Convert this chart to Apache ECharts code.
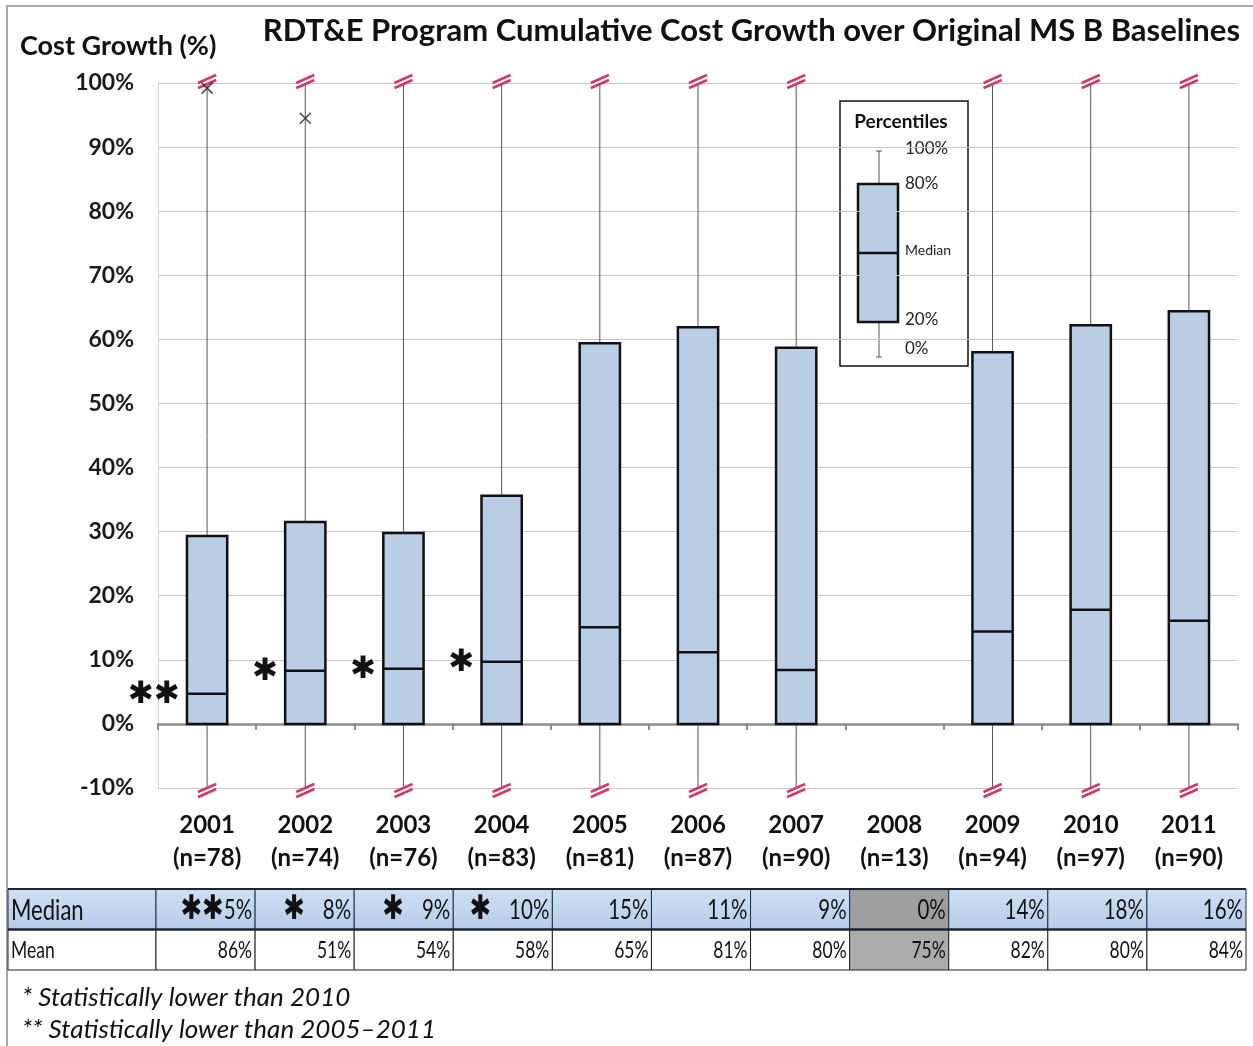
<!DOCTYPE html>
<html><head><meta charset="utf-8">
<script src="https://cdn.jsdelivr.net/npm/echarts@6/dist/echarts.min.js"></script>
<style>html,body{margin:0;padding:0;background:#fff}#c{width:1253px;height:1046px}</style>
</head><body><div id="c"></div>
<script>
// ---- data ----
const years = ['2001','2002','2003','2004','2005','2006','2007','2008','2009','2010','2011'];
const counts = [78,74,76,83,81,87,90,13,94,97,90];
// whisker ends are off-scale (shown broken at the axis limits)
const p0Shown   = [-10,-10,-10,-10,-10,-10,-10,null,-10,-10,-10];
const p20Shown  = [0,0,0,0,0,0,0,null,0,0,0];
const medians   = [4.7,8.3,8.6,9.7,15.1,11.2,8.4,null,14.4,17.8,16.1];
const p80       = [29.3,31.5,29.8,35.6,59.4,61.9,58.7,null,58.0,62.2,64.4];
const p100Shown = [100,100,100,100,100,100,100,null,100,100,100];
const sigMarks  = ['✱✱','✱','✱','✱','','','','','','',''];
const outlierYears = ['2001','2002'];
const outlierVals  = [99.2,94.5];
const yTicks = [-10,0,10,20,30,40,50,60,70,80,90,100];
// table
const tableRows   = ['Median','Mean'];
const medianTable = [5,8,9,10,15,11,9,0,14,18,16];
const meanTable   = [86,51,54,58,65,81,80,75,82,80,84];
const greyCols    = ['2008'];
const footnotes = ['* Statistically lower than 2010','** Statistically lower than 2005\u20132011'];

const FONT = 'Lato, "Open Sans", sans-serif';
const SQUEEZE = 0.76;
const BOX_FILL = '#b9cde5';
const BREAK = '#e2305a';
const MED_FILL = {type:'linear',x:0,y:0,x2:0,y2:1,colorStops:[{offset:0,color:'#cfdff3'},{offset:0.5,color:'#c2d6ee'},{offset:1,color:'#b6cbe6'}]};

function breakMark(cx, cy) {
  return [
    {type:'line', shape:{x1:cx-9,y1:cy+1,x2:cx+9,y2:cy-7}, style:{stroke:BREAK,lineWidth:2.5}},
    {type:'line', shape:{x1:cx-9,y1:cy+6,x2:cx+9,y2:cy-2}, style:{stroke:BREAK,lineWidth:2.5}},
    {type:'line', shape:{x1:cx-9,y1:cy+3.5,x2:cx+9,y2:cy-4.5}, style:{stroke:'#fff',lineWidth:1.5}}
  ];
}

function renderBox(params, api) {
  const i = params.dataIndex;
  if (medians[i] == null) return null;
  const x = api.value(0);
  const pLo = api.coord([x, api.value(1)]);
  const pQ1 = api.coord([x, api.value(2)]);
  const pMed = api.coord([x, api.value(3)]);
  const pQ3 = api.coord([x, api.value(4)]);
  const pHi = api.coord([x, api.value(5)]);
  const cx = pHi[0];
  const bw = api.size([1, 0])[0] * 0.41;
  const ch = [
    {type:'line', shape:{x1:cx,y1:pLo[1],x2:cx,y2:pHi[1]}, style:{stroke:'#555',lineWidth:1}},
    {type:'rect', shape:{x:cx-bw/2,y:pQ3[1],width:bw,height:pQ1[1]-pQ3[1]}, style:{fill:BOX_FILL,stroke:'#111',lineWidth:2.5}},
    {type:'line', shape:{x1:cx-bw/2,y1:pMed[1],x2:cx+bw/2,y2:pMed[1]}, style:{stroke:'#111',lineWidth:2.5}}
  ].concat(breakMark(cx, pHi[1]-1), breakMark(cx, pLo[1]+3));
  if (sigMarks[i]) {
    ch.push({type:'text', style:{text:sigMarks[i], x:cx-bw/2-7, y:pMed[1]+1, align:'right', verticalAlign:'middle',
      font:'bold 31px "DejaVu Sans", sans-serif', fill:'#111'}});
  }
  return {type:'group', children:ch};
}

function renderCell(params, api) {
  const col = api.value(0), row = api.value(1);
  const c = api.coord([col, row]);
  const s = api.size([1, 1]);
  const x0 = c[0]-s[0]/2, y0 = c[1]-s[1]/2;
  const isMed = row === 0;
  const grey = greyCols.indexOf(years[col]) >= 0;
  let fill = isMed ? MED_FILL : '#fff';
  if (grey) fill = isMed ? '#9e9e9e' : '#ababab';
  const val = isMed ? medianTable[col] : meanTable[col];
  const sig = isMed ? sigMarks[col] : '';
  const ch = [
    {type:'rect', shape:{x:x0,y:y0,width:s[0],height:s[1]}, style:{fill:fill,stroke:isMed?'#1f2f45':'#222',lineWidth:1}}
  ];
  ch.push({type:'text', x:x0+s[0]-3, y:c[1]+1, scaleX:SQUEEZE, style:{
    text: (sig ? '{a|' + sig + (sig.length===1?'  ':'') + '}' : '') + '{v|' + val + '%}',
    x:0, y:0, align:'right', verticalAlign:'middle',
    rich:{
      a:{font:'bold 34px "DejaVu Sans", sans-serif', fill:'#111'},
      v:{font:(isMed?'27px ':'23px ') + FONT, fill:'#111'}
    }}});
  return {type:'group', children:ch};
}

const chart = echarts.init(document.getElementById('c'), null, {renderer:'canvas'});
chart.setOption({
  animation:false,
  backgroundColor:'#fff',
  grid:[
    {left:158, right:15, top:83, bottom:258},
    {left:156, right:7, top:889, bottom:76}
  ],
  xAxis:[
    {type:'category', gridIndex:0, data:years, boundaryGap:true,
     axisLine:{onZero:true, lineStyle:{color:'#8c8c8c', width:2.5}},
     axisTick:{show:true, length:6, lineStyle:{color:'#8c8c8c', width:2}},
     axisLabel:{show:false}, splitLine:{show:false}},
    {type:'category', gridIndex:0, data:years, position:'bottom',
     axisLine:{show:false, onZero:false}, axisTick:{show:false},
     axisLabel:{margin:21, formatter:(v, i)=> v + '\n(n=' + counts[i] + ')',
       fontFamily:FONT, fontWeight:'bold', fontSize:24, lineHeight:33, color:'#111'}},
    {type:'category', gridIndex:1, data:years, show:false}
  ],
  yAxis:[
    {type:'value', gridIndex:0, min:yTicks[0], max:yTicks[yTicks.length-1], interval:10,
     axisLine:{show:true, lineStyle:{color:'#d4d4d4', width:1}},
     axisTick:{show:false},
     axisLabel:{formatter:v=>v+'%', margin:24, fontFamily:FONT, fontWeight:'bold', fontSize:23, color:'#1a1a1a'},
     splitLine:{show:true, lineStyle:{color:'#c6c6c6', width:1}}},
    {type:'category', gridIndex:1, data:tableRows, inverse:true, show:false}
  ],
  series:[
    {type:'custom', xAxisIndex:0, yAxisIndex:0, renderItem:renderBox, clip:false,
     encode:{x:0, y:[1,2,3,4,5]},
     data: years.map((y,i)=>[i, p0Shown[i], p20Shown[i], medians[i], p80[i], p100Shown[i]])},
    {type:'scatter', xAxisIndex:0, yAxisIndex:0, symbol:'path://M0,0L10,10M10,0L0,10', symbolSize:11,
     itemStyle:{color:'rgba(0,0,0,0)', borderColor:'#222', borderWidth:1.6},
     data: outlierYears.map((y,i)=>[y, outlierVals[i]])},
    {type:'custom', xAxisIndex:2, yAxisIndex:1, renderItem:renderCell, clip:false,
     encode:{x:0, y:1},
     data: [].concat(years.map((y,i)=>[i,0]), years.map((y,i)=>[i,1]))}
  ],
  graphic:[
    {type:'rect', shape:{x:7,y:6,width:1270,height:1070}, style:{fill:'none',stroke:'#8a8a8a',lineWidth:1.5}, silent:true},
    {type:'text', x:1240, y:31, style:{text:'RDT&E Program Cumulative Cost Growth over Original MS B Baselines',
      align:'right', verticalAlign:'middle', font:'bold 31px '+FONT, fill:'#111'}},
    {type:'text', x:20, y:46, style:{text:'Cost Growth (%)', align:'left', verticalAlign:'middle', font:'bold 27px '+FONT, fill:'#111'}},
    // legend box
    {type:'group', children:[
      {type:'rect', shape:{x:840,y:101,width:128,height:265}, style:{fill:'#fff',stroke:'#111',lineWidth:1.5}},
      {type:'text', x:901, y:122, style:{text:'Percentiles', align:'center', verticalAlign:'middle', font:'bold 19px '+FONT, fill:'#111'}},
      {type:'line', shape:{x1:879,y1:151,x2:879,y2:357}, style:{stroke:'#555',lineWidth:1}},
      {type:'line', shape:{x1:876,y1:151,x2:882,y2:151}, style:{stroke:'#555',lineWidth:1}},
      {type:'line', shape:{x1:876,y1:357,x2:882,y2:357}, style:{stroke:'#555',lineWidth:1}},
      {type:'rect', shape:{x:858,y:184,width:40,height:138}, style:{fill:BOX_FILL,stroke:'#111',lineWidth:2.5}},
      {type:'line', shape:{x1:858,y1:253,x2:898,y2:253}, style:{stroke:'#111',lineWidth:2.5}},
      {type:'text', x:905, y:149, style:{text:'100%', verticalAlign:'middle', font:'17px '+FONT, fill:'#222'}},
      {type:'text', x:905, y:184, style:{text:'80%', verticalAlign:'middle', font:'17px '+FONT, fill:'#222'}},
      {type:'text', x:905, y:250, style:{text:'Median', verticalAlign:'middle', font:'14px '+FONT, fill:'#222'}},
      {type:'text', x:905, y:320, style:{text:'20%', verticalAlign:'middle', font:'17px '+FONT, fill:'#222'}},
      {type:'text', x:905, y:349, style:{text:'0%', verticalAlign:'middle', font:'17px '+FONT, fill:'#222'}}
    ]},
    // table header column
    {type:'rect', shape:{x:8,y:889,width:148,height:40.5}, style:{fill:MED_FILL,stroke:'#1f2f45',lineWidth:1}},
    {type:'rect', shape:{x:8,y:929.5,width:148,height:40.5}, style:{fill:'#fff',stroke:'#222',lineWidth:1}},
    {type:'text', x:11, y:911, scaleX:SQUEEZE, style:{text:tableRows[0], x:0, y:0, verticalAlign:'middle', font:'29px '+FONT, fill:'#111'}},
    {type:'text', x:11, y:951, scaleX:SQUEEZE, style:{text:tableRows[1], x:0, y:0, verticalAlign:'middle', font:'23px '+FONT, fill:'#111'}},
    {type:'line', shape:{x1:8,y1:929.5,x2:1246,y2:929.5}, style:{stroke:'#1a2433',lineWidth:2.5}, z:100},
    {type:'line', shape:{x1:8,y1:889,x2:1246,y2:889}, style:{stroke:'#1a2433',lineWidth:2}, z:100},
    // footnotes
    {type:'text', x:22, y:998, style:{text:footnotes[0], verticalAlign:'middle', font:'italic 26px '+FONT, fill:'#111'}},
    {type:'text', x:22, y:1030, style:{text:footnotes[1], verticalAlign:'middle', font:'italic 26px '+FONT, fill:'#111'}}
  ]
});
</script></body></html>
